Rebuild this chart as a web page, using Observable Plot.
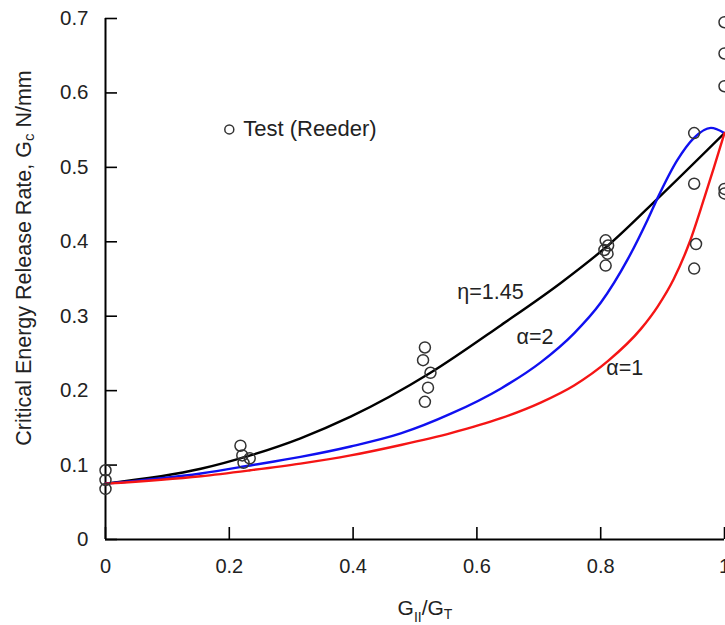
<!DOCTYPE html>
<html><head><meta charset="utf-8">
<script src="https://cdn.jsdelivr.net/npm/d3@7"></script>
<script src="https://cdn.jsdelivr.net/npm/@observablehq/plot@0.6"></script>
<style>body{margin:0;background:#fff}#chart svg{display:block}</style>
</head><body><div id="chart"></div>
<script>
// ---- data ----
const xTicks = [0, 0.2, 0.4, 0.6, 0.8, 1];
const yTicks = [0, 0.1, 0.2, 0.3, 0.4, 0.5, 0.6, 0.7];

// Test (Reeder) points
const testX = [0, 0, 0,
  0.218, 0.221, 0.233, 0.223,
  0.516, 0.513, 0.525, 0.521, 0.516,
  0.808, 0.812, 0.806, 0.811, 0.808,
  0.951, 0.951, 0.954, 0.951,
  1, 1, 1, 1, 1];
const testY = [0.093, 0.080, 0.068,
  0.126, 0.113, 0.109, 0.103,
  0.258, 0.241, 0.224, 0.204, 0.185,
  0.402, 0.395, 0.389, 0.384, 0.368,
  0.546, 0.478, 0.397, 0.364,
  0.695, 0.653, 0.609, 0.471, 0.465];

// B-K curve, eta = 1.45 (black)
const etaX = [0, 0.154, 0.234, 0.315, 0.396, 0.525, 0.639, 0.736, 0.816, 0.892, 1];
const etaY = [0.075, 0.095, 0.113, 0.136, 0.165, 0.224, 0.288, 0.345, 0.398, 0.458, 0.546];

// Power law, alpha = 2 (blue)
const a2X = [0, 0.154, 0.234, 0.315, 0.396, 0.477, 0.558, 0.639, 0.703, 0.757, 0.800, 0.844, 0.876, 0.892, 0.924, 0.950, 0.978, 1];
const a2Y = [0.075, 0.0887, 0.0995, 0.111, 0.125, 0.1425, 0.169, 0.203, 0.238, 0.277, 0.318, 0.377, 0.430, 0.459, 0.510, 0.539, 0.553, 0.546];

// Power law, alpha = 1 (red)
const a1X = [0, 0.154, 0.234, 0.315, 0.396, 0.477, 0.558, 0.639, 0.703, 0.757, 0.812, 0.865, 0.892, 0.918, 0.943, 0.967, 0.983, 1];
const a1Y = [0.075, 0.085, 0.093, 0.102, 0.113, 0.127, 0.143, 0.163, 0.184, 0.207, 0.240, 0.283, 0.313, 0.350, 0.398, 0.458, 0.500, 0.546];

const curveNames = ["η=1.45", "α=2", "α=1"];
const curveColors = ["#000000", "#1010f0", "#f51515"];
// annotation anchors (data units)
const curveLabelX = [0.622, 0.694, 0.839];
const curveLabelY = [0.332, 0.2715, 0.2305];
const legendText = "Test (Reeder)";
const legendX = 0.2, legendY = 0.551;

// ---- build tables ----
const pts = testX.map((x, i) => ({x, y: testY[i]}));
const toRows = (xs, ys, name) => xs.map((x, i) => ({x, y: ys[i], name}));
const curves = [
  toRows(etaX, etaY, curveNames[0]),
  toRows(a2X, a2Y, curveNames[1]),
  toRows(a1X, a1Y, curveNames[2])
];
const labels = curveNames.map((t, i) => ({t, x: curveLabelX[i], y: curveLabelY[i]}));
const fmt = d => String(+d.toFixed(1));

const ink = "#222";
const plot = Plot.plot({
  width: 725, height: 625,
  marginLeft: 105, marginRight: 1, marginTop: 18, marginBottom: 86,
  style: {fontFamily: "'Liberation Sans', Arial, sans-serif", color: ink, background: "#fff"},
  x: {domain: [0, 1]},
  y: {domain: [0, 0.7]},
  marks: [
    // tick marks (inward)
    Plot.axisX(xTicks, {anchor: "bottom", tickSize: -12, fill: "none", stroke: "#000", strokeWidth: 1.6, label: null}),
    Plot.axisY(yTicks, {anchor: "left", tickSize: -12, fill: "none", stroke: "#000", strokeWidth: 1.6, label: null}),
    // tick labels
    Plot.axisX(xTicks, {anchor: "bottom", tickSize: 0, tickPadding: 19, tickFormat: fmt, fontSize: 20, fill: ink, label: null}),
    Plot.axisY(yTicks, {anchor: "left", tickSize: 0, tickPadding: 17, tickFormat: fmt, fontSize: 20.5, fill: ink, label: null}),
    // axis lines
    Plot.ruleX([0], {stroke: "#000", strokeWidth: 2}),
    Plot.ruleY([0], {stroke: "#000", strokeWidth: 2}),
    // curves
    ...curves.map((c, i) => Plot.line(c, {x: "x", y: "y", stroke: curveColors[i], strokeWidth: 2.4, curve: "monotone-x"})),
    // test points
    Plot.dot(pts, {x: "x", y: "y", r: 5.5, stroke: "#333", strokeWidth: 1.5, fill: "none"}),
    // curve labels
    Plot.text(labels, {x: "x", y: "y", text: "t", fontSize: 21.5, fill: ink, textAnchor: "middle"}),
    // legend
    Plot.dot([{x: legendX, y: legendY}], {x: "x", y: "y", r: 4.5, stroke: "#333", strokeWidth: 1.5, fill: "none"}),
    Plot.text([{x: legendX, y: legendY, t: legendText}], {x: "x", y: "y", text: "t", dx: 14, textAnchor: "start", fontSize: 22, fill: ink})
  ]
});
document.getElementById("chart").append(plot);

// axis titles with subscripts
const svg = d3.select(plot);
const yl = svg.append("text")
  .attr("transform", "translate(31,258) rotate(-90)")
  .attr("text-anchor", "middle")
  .attr("font-size", 21.5)
  .attr("fill", ink);
yl.append("tspan").text("Critical Energy Release Rate, G");
yl.append("tspan").attr("font-size", 15).attr("dy", 3).text("c");
yl.append("tspan").attr("dy", -3).text(" N/mm");

const xl = svg.append("text")
  .attr("x", 425).attr("y", 615)
  .attr("text-anchor", "middle")
  .attr("font-size", 21)
  .attr("fill", ink);
xl.append("tspan").text("G");
xl.append("tspan").attr("font-size", 14).attr("dy", 7).text("II");
xl.append("tspan").attr("dy", -7).text("/G");
xl.append("tspan").attr("font-size", 14).attr("dy", 4).text("T");
</script>
</body></html>
